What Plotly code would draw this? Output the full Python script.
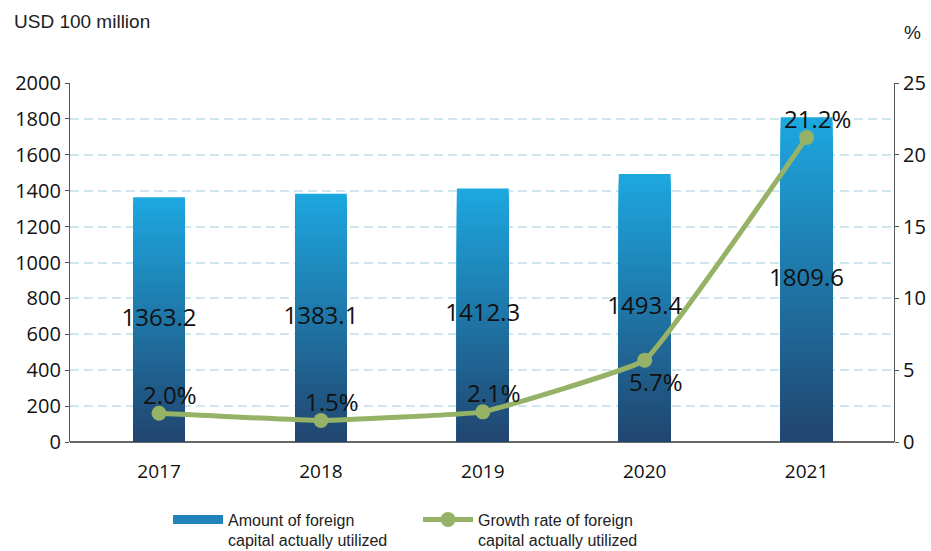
import plotly.graph_objects as go

years = ["2017", "2018", "2019", "2020", "2021"]
amount = [1363.2, 1383.1, 1412.3, 1493.4, 1809.6]
growth = [2.0, 1.5, 2.1, 5.7, 21.2]
amount_labels = ["1363.2", "1383.1", "1412.3", "1493.4", "1809.6"]
growth_labels = ["2.0%", "1.5%", "2.1%", "5.7%", "21.2%"]
growth_label_side = ["above", "above", "above", "below", "above"]

left_ticks = [0, 200, 400, 600, 800, 1000, 1200, 1400, 1600, 1800, 2000]
right_ticks = [0, 5, 10, 15, 20, 25]

TOP = (29, 167, 223)
BOTTOM = (33, 68, 110)
N = 60
NUM_FONT = "Open Sans, Noto Sans, sans-serif"
TXT_FONT = "Liberation Sans, Arial, sans-serif"

def mix(t):
    c = [round(BOTTOM[i] + (TOP[i] - BOTTOM[i]) * t) for i in range(3)]
    return f"rgb({c[0]},{c[1]},{c[2]})"

fig = go.Figure()

BAR_W = 0.32
for k in range(N):
    frac = 1 - k / N
    fig.add_trace(go.Bar(
        x=years, y=[v * frac for v in amount],
        width=BAR_W,
        marker=dict(color=mix(frac), line=dict(width=0)),
        showlegend=False, hoverinfo="skip",
    ))

# legend entry for bars (drawn as a thick line to get a wide rectangle swatch)
fig.add_trace(go.Scatter(
    x=[None], y=[None], mode="lines",
    line=dict(color="#2282BA", width=9),
    name="Amount of foreign<br>capital actually utilized",
    showlegend=True,
))

# value labels at bar middle
fig.add_trace(go.Scatter(
    x=years, y=[v / 2 for v in amount], mode="text",
    text=amount_labels, textposition="middle center",
    textfont=dict(family=NUM_FONT, size=24, color="#111111"),
    showlegend=False, hoverinfo="skip",
))

fig.add_trace(go.Scatter(
    x=years, y=growth, yaxis="y2",
    mode="lines+markers",
    line=dict(color="#95B266", width=5, shape="spline", smoothing=0.25),
    marker=dict(color="#95B266", size=15),
    name="Growth rate of foreign<br>capital actually utilized",
))

annotations = []
for i, (g, lab, side) in enumerate(zip(growth, growth_labels, growth_label_side)):
    annotations.append(dict(
        x=i, y=g, xref="x", yref="y2", text=lab, showarrow=False,
        xshift=11, yshift=(19 if side == "above" else -21),
        font=dict(family=NUM_FONT, size=24, color="#111111"),
    ))

annotations += [
    dict(text="USD 100 million", xref="paper", yref="paper", x=-0.0704, y=1.17,
         xanchor="left", yanchor="middle", showarrow=False,
         font=dict(family=TXT_FONT, size=19, color="#222222")),
    dict(text="%", xref="paper", yref="paper", x=1.022, y=1.142,
         xanchor="center", yanchor="middle", showarrow=False,
         font=dict(family=TXT_FONT, size=19, color="#222222")),
]

fig.update_layout(
    width=931, height=551,
    margin=dict(l=70, r=37, t=83, b=109, autoexpand=False),
    paper_bgcolor="white", plot_bgcolor="white",
    barmode="overlay",
    font=dict(family=NUM_FONT, color="#111111"),
    xaxis=dict(
        type="category", range=[-0.55, 4.54],
        showgrid=False, showline=False, ticks="",
        tickfont=dict(size=19, color="#111111"),
        ticklabelstandoff=16,
        zeroline=False,
    ),
    yaxis=dict(
        range=[0, 2000], tickvals=left_ticks,
        showgrid=True, gridcolor="#D0E6EE", griddash="9px,5px", gridwidth=2,
        showline=True, linecolor="#555555", linewidth=1.2,
        ticks="outside", ticklen=4, tickcolor="#555555",
        tickfont=dict(size=20, color="#111111"),
        zeroline=True, zerolinecolor="#666666", zerolinewidth=1.5,
    ),
    yaxis2=dict(
        range=[0, 25], tickvals=right_ticks, overlaying="y", side="right",
        showgrid=False, showline=True, linecolor="#555555", linewidth=1.2,
        ticks="outside", ticklen=4, tickcolor="#555555",
        tickfont=dict(size=20, color="#111111"), zeroline=False,
    ),
    legend=dict(
        orientation="h", x=0.119, y=0.088, xref="paper", yref="container",
        xanchor="left", yanchor="top", valign="top",
        font=dict(family=TXT_FONT, size=16, color="#222222"),
        entrywidth=185, itemwidth=50, tracegroupgap=0,
        bgcolor="rgba(0,0,0,0)",
    ),
    annotations=annotations,
)

fig.write_html(
    "out.html",
    config={"displayModeBar": False},
    post_script="document.body.style.margin='0';document.body.style.overflow='hidden';",
)
